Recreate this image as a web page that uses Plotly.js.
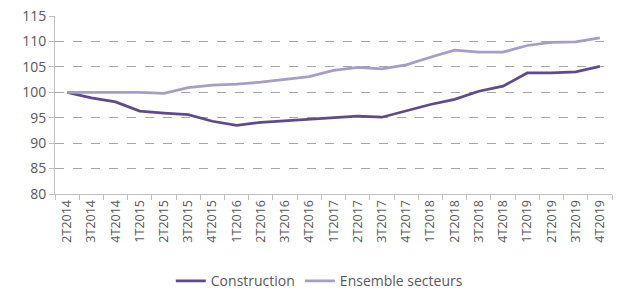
<!DOCTYPE html>
<html><head><meta charset="utf-8">
<script src="https://cdn.plot.ly/plotly-3.0.1.min.js"></script>
<style>html,body{margin:0;padding:0;background:#fff}#c{width:620px;height:293px}</style>
</head><body><div id="c"></div>
<script>
var categories = ["2T2014","3T2014","4T2014","1T2015","2T2015","3T2015","4T2015","1T2016","2T2016","3T2016","4T2016","1T2017","2T2017","3T2017","4T2017","1T2018","2T2018","3T2018","4T2018","1T2019","2T2019","3T2019","4T2019"];
var construction = [100,98.9,98.1,96.3,95.9,95.6,94.3,93.5,94.1,94.4,94.6,94.9,95.3,95.1,96.3,97.6,98.6,100.2,101.2,103.8,103.8,104.0,105.1];
var ensemble = [100,100,100,100,99.8,100.9,101.4,101.6,102.0,102.5,103.1,104.3,104.9,104.6,105.4,106.9,108.3,107.9,107.9,109.2,109.8,109.9,110.7];
var yTicks = [80,85,90,95,100,105,110,115];

var data = [
  {x: categories, y: construction, name: "Construction", type: "scatter", mode: "lines",
   line: {color: "#5f4b8b", width: 2.75}},
  {x: categories, y: ensemble, name: "Ensemble secteurs", type: "scatter", mode: "lines",
   line: {color: "#a79dc6", width: 2.75}}
];
var layout = {
  width: 620, height: 293,
  margin: {l: 55, r: 8, t: 16, b: 99},
  paper_bgcolor: "#fff", plot_bgcolor: "#fff",
  font: {family: "Open Sans, Liberation Sans, sans-serif", size: 13, color: "#595959"},
  showlegend: true,
  legend: {orientation: "h", xref: "container", yref: "container", x: 0.515, xanchor: "center",
           y: 0.04, yanchor: "middle",
           font: {size: 14, color: "#595959"}, itemwidth: 30, tracegroupgap: 0},
  xaxis: {type: "category", tickangle: -90, showgrid: false, showline: true, linecolor: "#bfbfbf",
          ticks: "outside", tickson: "boundaries", ticklen: 5, tickcolor: "#bfbfbf",
          tickfont: {size: 12.5, color: "#595959"}, range: [-0.5, 22.5], automargin: false},
  yaxis: {range: [80, 115], tickvals: yTicks, showgrid: true, gridcolor: "#a6a6a6", griddash: "dash",
          gridwidth: 1, showline: true, linecolor: "#bfbfbf", ticks: "outside", ticklen: 5,
          tickcolor: "#bfbfbf", zeroline: false, tickfont: {size: 14, color: "#595959"}, automargin: false}
};
Plotly.newPlot("c", data, layout, {displayModeBar: false, staticPlot: true});
</script></body></html>
